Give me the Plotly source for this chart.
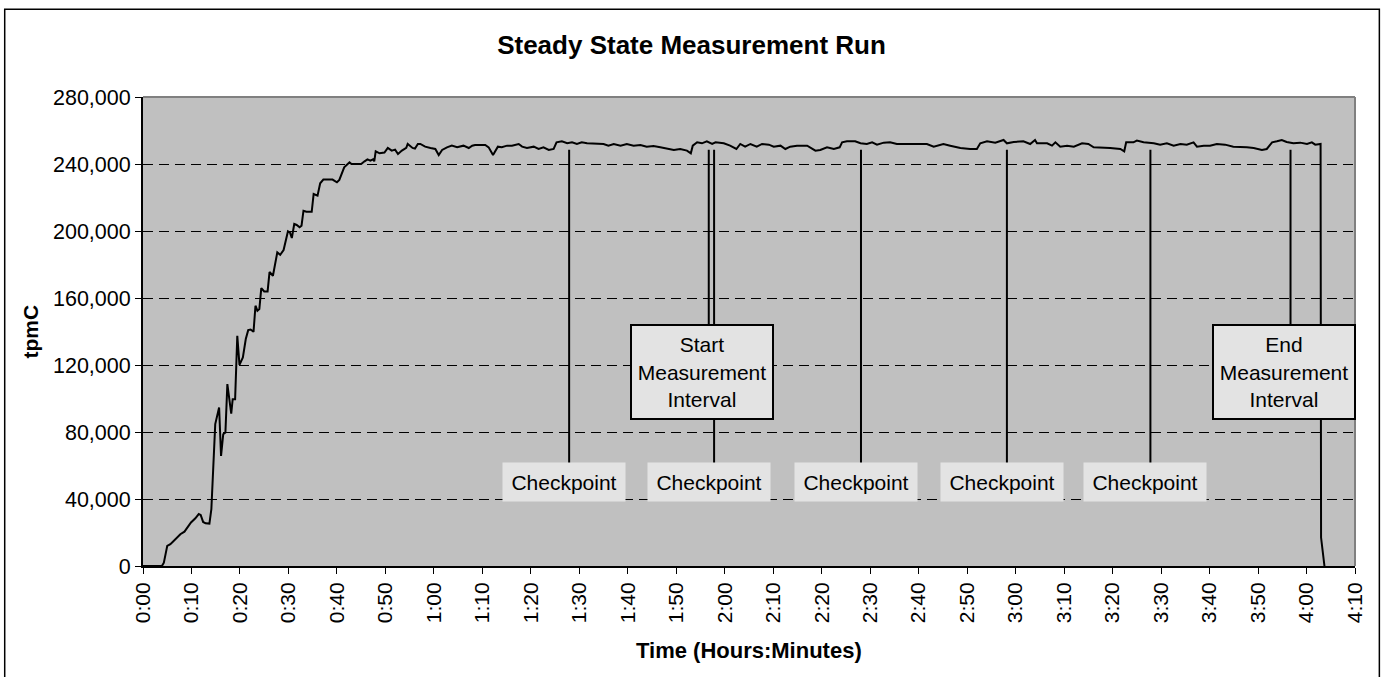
import plotly.graph_objects as go

# ---------------- data ----------------
time_min = [
    0, 3.9, 4.3, 5.0, 5.65, 7.0, 7.7, 8.55, 9.1, 9.9, 10.8, 11.5, 11.9, 12.4, 12.9, 13.7,
    14.1, 14.5, 14.9, 15.7, 16.1, 16.55, 17.0, 17.4, 17.8, 18.2, 18.5, 19.0, 19.45, 19.9,
    20.6, 21.2, 21.7, 22.2, 22.8, 23.2, 23.6, 24.0, 24.4, 25.0, 25.7, 26.1, 26.8, 27.7,
    28.3, 29.0, 29.9, 30.3, 30.7, 31.2, 31.7, 32.3, 32.7, 33.1, 33.7, 34.8, 35.2, 36.0,
    36.55, 37.2, 38.0, 39.1, 40.0, 40.5, 41.5, 42.6, 43.0, 45.0, 45.7, 46.3, 46.9, 47.45,
    47.7, 48.0, 48.8, 49.8, 50.5, 51.3, 52.0, 52.6, 53.4, 54.3, 54.6, 55.6, 56.1, 56.7,
    57.2, 58.2, 59.3, 60.3, 61.0, 61.7, 62.7, 63.7, 64.8, 66.1, 67.2, 67.9, 68.5, 70.6,
    71.3, 72.2, 73.2, 74.0, 75.1, 76.1, 77.5, 78.2, 79.2, 80.6, 81.6, 82.6, 83.7, 84.7,
    85.3, 86.4, 87.5, 88.5, 89.5, 90.5, 91.6, 95.0, 96.0, 97.1, 98.5, 99.8, 101.2, 102.6,
    103.9, 105.3, 106.7, 108.4, 109.5, 110.8, 112.2, 113.0, 113.4, 114.3, 115.3, 116.3,
    117.4, 118.1, 119.8, 121.1, 122.4, 123.2, 124.2, 125.3, 126.6, 127.7, 129.1, 130.1,
    131.5, 132.5, 133.5, 134.9, 137.0, 138.7, 139.7, 141.1, 142.5, 143.7, 144.2, 145.2,
    146.9, 148.0, 149.3, 150.4, 151.4, 152.8, 154.1, 155.5,
    156.2, 158.3, 159.6, 161.7, 163.1, 165.1, 166.5, 168.6, 170.6, 172.0, 172.7, 174.1,
    175.8, 177.5, 178.2, 179.6, 181.6, 183.0, 184.0, 184.4, 186.5, 187.5, 188.2, 189.2,
    190.6, 192.0, 193.7, 195.0, 196.1, 197.5, 199.5, 201.6, 202.4, 202.8, 204.3, 205.0,
    206.4, 208.5, 209.8, 211.2, 212.6, 214.0, 215.3, 216.7, 217.4, 218.8, 220.1, 221.5,
    223.2, 224.9, 226.3, 227.7, 229.1, 230.8, 231.8, 232.9, 233.9, 234.9, 235.9, 237.3,
    238.7, 240.1, 241.1, 241.8, 242.9, 243.0, 243.7,
]
tpmc = [
    0, 0, 2000, 12000, 13000, 17000, 19000, 20500, 23000, 26000, 28500, 31000, 30500, 26300,
    25500, 25300, 33900, 56800, 84700, 94600, 65700, 78700, 79700, 108600, 100600, 91000,
    99600, 99600, 137400, 120100, 124500, 135500, 140800, 141200, 139800, 155400, 152400,
    153400, 165900, 163900, 163900, 175500, 173300, 187200, 185800, 188600, 199800, 199200,
    195800, 204200, 203600, 202200, 203200, 212100, 211500, 211500, 222100, 221100, 228500,
    230700, 230700, 230700, 229100, 230500, 238000, 241000, 240000, 240000, 241600, 242800,
    242000, 242800, 241600, 247600, 246400, 246800, 249600, 248000, 248600, 246000, 248000,
    249600, 252000, 249600, 249200, 252000,
    251950, 250360, 249560, 248960, 245380, 248370, 249960, 250950, 249960, 250950, 249560,
    250950, 251350, 251350, 249960, 245380, 250360, 249960, 250950, 250950, 251950, 250360,
    249560, 250360, 248960, 249960, 248370, 248960, 252950, 253550, 252350, 252950, 251950,
    252950, 252350, 251950, 250950, 251950, 250950, 251950, 250950, 251350, 250360, 250760,
    249960, 248960, 248370, 248960, 247970, 246370, 250950, 252950, 252350, 253550, 251950,
    252950, 252350, 250950, 248960, 251950, 250360, 251950, 250360, 251950, 251550, 250360,
    250950, 248960, 250360, 250950, 250950, 247970, 248370, 249960, 248960, 249960, 252950,
    253550, 253550, 252350, 251950, 252950, 251550, 252750, 252950, 251950,
    251950, 251550, 251950, 251950, 250360, 251950, 250950, 249560, 248960, 248960, 252350,
    253550, 252750, 254340, 252350, 253150, 253550, 251950, 254340, 252350, 252350, 250950,
    252950, 250360, 250950, 250360, 252350, 251950, 249960, 249960, 249560, 248960, 247570,
    252950, 252950, 253940, 252950, 252350, 251550, 252350, 250950, 251950, 251550, 252950,
    250360, 250950, 250950, 251950, 251550, 250360, 250360, 249960, 249560, 248370, 248960,
    252950, 253550, 254340, 253150, 252350, 252750, 251950, 252950, 251550, 251950, 17000, 0,
]

x_tick_vals = list(range(0, 251, 10))
x_tick_text = ["0:00", "0:10", "0:20", "0:30", "0:40", "0:50", "1:00", "1:10", "1:20",
               "1:30", "1:40", "1:50", "2:00", "2:10", "2:20", "2:30", "2:40", "2:50",
               "3:00", "3:10", "3:20", "3:30", "3:40", "3:50", "4:00", "4:10"]
y_tick_vals = [0, 40000, 80000, 120000, 160000, 200000, 240000, 280000]

checkpoint_times = [87.9, 117.8, 148.1, 178.2, 207.8]
checkpoint_label = "Checkpoint"
start_time = 116.7
end_time = 236.7
start_label = "Start<br>Measurement<br>Interval"
end_label = "End<br>Measurement<br>Interval"

marker_top_value = 248500
checkpoint_label_value = 50000
interval_label_value = 115700

title_text = "Steady State Measurement Run"
x_title = "Time (Hours:Minutes)"
y_title = "tpmC"

# ---------------- figure ----------------
FONT = "Arial, 'Liberation Sans', sans-serif"

fig = go.Figure()
fig.add_trace(go.Scatter(x=time_min, y=tpmc, mode="lines",
                         line=dict(color="black", width=2), hoverinfo="skip",
                         showlegend=False))

shapes = []
# vertical marker lines
for t in checkpoint_times:
    shapes.append(dict(type="line", xref="x", yref="y", x0=t, x1=t,
                       y0=marker_top_value, y1=checkpoint_label_value,
                       line=dict(color="black", width=2)))
for t in (start_time, end_time):
    shapes.append(dict(type="line", xref="x", yref="y", x0=t, x1=t,
                       y0=marker_top_value, y1=interval_label_value,
                       line=dict(color="black", width=2)))
# top and right frame (gray)
shapes.append(dict(type="line", xref="paper", yref="paper", x0=0, x1=1, y0=1, y1=1,
                   line=dict(color="#808080", width=2)))
shapes.append(dict(type="line", xref="paper", yref="paper", x0=1, x1=1, y0=0, y1=1,
                   line=dict(color="#808080", width=2)))
# outer chart border
shapes.append(dict(type="rect", xref="paper", yref="paper",
                   x0=-0.1141, x1=1.0201, y0=-0.264, y1=1.187,
                   line=dict(color="black", width=1.5), fillcolor="rgba(0,0,0,0)",
                   layer="below"))

annotations = []
for t in checkpoint_times:
    annotations.append(dict(x=t, y=checkpoint_label_value, xref="x", yref="y",
                            text=checkpoint_label, showarrow=False, xshift=-5,
                            bgcolor="#E3E3E3", width=122, height=38, borderpad=0,
                            font=dict(family=FONT, size=21, color="black")))
for t, lab in ((start_time, start_label), (end_time, end_label)):
    annotations.append(dict(x=t, y=interval_label_value, xref="x", yref="y",
                            text=lab, showarrow=False, xshift=-7,
                            bgcolor="#E3E3E3", bordercolor="black", borderwidth=2,
                            width=140, height=92, borderpad=0,
                            font=dict(family=FONT, size=21, color="black")))
annotations.append(dict(x=0.5, y=-0.181, xref="paper", yref="paper", text="<b>" + x_title + "</b>",
                        showarrow=False, xanchor="center", yanchor="middle",
                        font=dict(family=FONT, size=22, color="black")))
annotations.append(dict(x=0, y=0.5, xref="paper", yref="paper", text="<b>" + y_title + "</b>",
                        showarrow=False, xanchor="center", yanchor="middle", xshift=-113,
                        textangle=-90, font=dict(family=FONT, size=21, color="black")))

fig.update_layout(
    width=1383, height=677,
    margin=dict(l=143, r=28, t=97, b=111),
    paper_bgcolor="white",
    plot_bgcolor="#C0C0C0",
    font=dict(family=FONT, color="black"),
    title=dict(text="<b>" + title_text + "</b>", x=0.5, xref="container", xanchor="center",
               y=1 - 45 / 677, yref="container", yanchor="middle",
               font=dict(family=FONT, size=26, color="black")),
    shapes=shapes,
    annotations=annotations,
    showlegend=False,
)
fig.update_xaxes(range=[0, 250], tickmode="array", tickvals=x_tick_vals, ticktext=x_tick_text,
                 tickangle=-90, ticks="outside", ticklen=6, tickcolor="black", tickwidth=1,
                 showgrid=False, zeroline=False, showline=True, linecolor="black", linewidth=2,
                 tickfont=dict(family=FONT, size=21, color="black"), fixedrange=True)
fig.update_yaxes(range=[0, 280000], tickmode="array", tickvals=y_tick_vals, tickformat=",d",
                 ticks="outside", ticklen=6, tickcolor="black", tickwidth=1,
                 showgrid=True, gridcolor="black", gridwidth=1, griddash="10px,6px",
                 zeroline=False, showline=True, linecolor="black", linewidth=2,
                 tickfont=dict(family=FONT, size=21.5, color="black"), fixedrange=True)

fig.write_html("out.html", config={"displayModeBar": False, "staticPlot": True},
               post_script="document.body.style.margin='0px';document.body.style.overflow='hidden';")
